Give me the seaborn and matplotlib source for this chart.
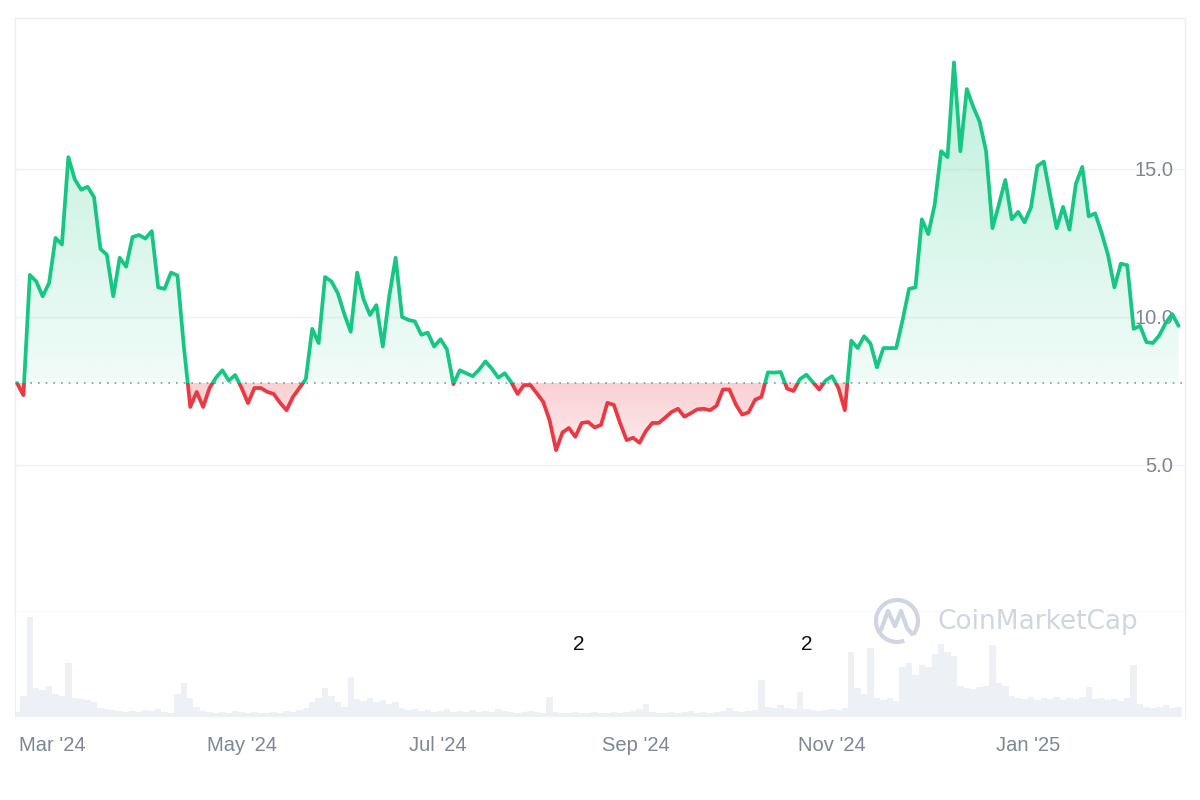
import numpy as np
import pandas as pd
import matplotlib
matplotlib.use("Agg")
import matplotlib.pyplot as plt
import matplotlib.dates as mdates
import matplotlib.colors as mcolors
import seaborn as sns
from matplotlib.path import Path
from matplotlib.patches import Rectangle, Arc
from matplotlib.transforms import ScaledTranslation, blended_transform_factory

# ---------------------------------------------------------------------------
# Data (one value every 2 days)
# ---------------------------------------------------------------------------
START = "2024-02-21"
PRICE = [
    7.77, 7.36, 11.42, 11.2, 10.7, 11.15, 12.67, 12.45, 15.4, 14.65,
    14.3, 14.4, 14.05, 12.3, 12.1, 10.7, 12.0, 11.7, 12.7, 12.77,
    12.65, 12.9, 11.0, 10.95, 11.5, 11.4, 9.0, 6.96, 7.47, 6.96,
    7.6, 7.95, 8.2, 7.85, 8.04, 7.6, 7.09, 7.6, 7.6, 7.47,
    7.4, 7.1, 6.85, 7.3, 7.6, 7.9, 9.6, 9.12, 11.35, 11.2,
    10.8, 10.1, 9.5, 11.5, 10.6, 10.07, 10.4, 9.0, 10.7, 12.0,
    10.0, 9.9, 9.85, 9.4, 9.47, 9.0, 9.25, 8.9, 7.73, 8.2,
    8.1, 8.0, 8.22, 8.5, 8.25, 7.95, 8.1, 7.8, 7.4, 7.7,
    7.7, 7.42, 7.13, 6.5, 5.5, 6.1, 6.25, 5.95, 6.42, 6.45,
    6.27, 6.35, 7.1, 7.03, 6.4, 5.84, 5.92, 5.75, 6.15, 6.42,
    6.42, 6.6, 6.79, 6.9, 6.63, 6.75, 6.88, 6.9, 6.85, 7.0,
    7.55, 7.55, 7.05, 6.7, 6.78, 7.2, 7.3, 8.13, 8.12, 8.14,
    7.58, 7.5, 7.9, 8.05, 7.8, 7.55, 7.85, 8.0, 7.6, 6.85,
    9.2, 8.95, 9.35, 9.1, 8.3, 8.95, 8.95, 8.95, 9.9, 10.95,
    11.0, 13.3, 12.8, 13.8, 15.6, 15.4, 18.6, 15.6, 17.7, 17.1,
    16.6, 15.6, 13.0, 13.8, 14.63, 13.3, 13.55, 13.2, 13.7, 15.1,
    15.25, 14.1, 13.0, 13.72, 12.95, 14.5, 15.07, 13.4, 13.5, 12.85,
    12.1, 11.0, 11.8, 11.75, 9.6, 9.7, 9.15, 9.12, 9.38, 9.8,
    10.1, 9.7,
]
VOLUME = [
    5, 20, 95, 28, 26, 30, 22, 20, 51, 18,
    17, 16, 14, 9, 8, 7, 6, 5, 6, 5,
    7, 6, 8, 5, 4, 22, 32, 18, 10, 6,
    5, 4, 5, 4, 6, 5, 4, 5, 4, 4,
    5, 4, 6, 5, 7, 9, 14, 18, 28, 20,
    14, 10, 38, 17, 15, 18, 14, 16, 12, 14,
    9, 7, 8, 6, 7, 5, 6, 8, 5, 6,
    5, 7, 5, 6, 5, 8, 6, 5, 4, 5,
    6, 5, 4, 19, 5, 4, 4, 5, 4, 4,
    5, 4, 4, 5, 4, 5, 6, 8, 12, 5,
    4, 4, 5, 4, 5, 6, 4, 5, 4, 5,
    6, 9, 6, 5, 6, 7, 35, 10, 9, 11,
    9, 8, 24, 8, 7, 6, 7, 8, 7, 9,
    62, 28, 22, 66, 18, 16, 18, 15, 48, 51,
    40, 50, 48, 60, 70, 62, 58, 30, 28, 27,
    29, 30, 69, 32, 30, 20, 18, 17, 19, 16,
    18, 17, 19, 16, 18, 17, 19, 29, 17, 18,
    16, 17, 15, 18, 50, 12, 10, 9, 10, 11,
    9, 10,
]
Y_TICKS = [5, 10, 15]
TICK_MONTHS = [1, 3, 5, 7, 9, 11]
EVENT_DATES = ["2024-08-14", "2024-10-24"]
EVENT_LABELS = ["2", "2"]

GREEN = "#16c784"
RED = "#ea3943"
GRAY = "#7f8694"
FRAME = "#eceef2"
VOL_COLOR = "#edf0f5"
MARK = "#cfd5e1"

sns.set_style("white")
plt.rcParams["font.family"] = ["Liberation Sans", "DejaVu Sans"]

dates = pd.date_range(START, periods=len(PRICE), freq="2D")
df = pd.DataFrame({"date": dates, "price": PRICE, "volume": VOLUME})
base = PRICE[0]
price = np.array(PRICE)
xnum = mdates.date2num(dates)

fig = plt.figure(figsize=(12, 8), dpi=100)
ax = fig.add_axes([0.0125, 0.235, 0.975, 0.7425])
axv = fig.add_axes([0.0125, 0.10375, 0.975, 0.13125], sharex=ax)


def gradient_fill(where, y0, y1, a0, a1, color):
    # fill between line and baseline with a vertical alpha gradient
    poly = ax.fill_between(xnum, price, base, where=where, interpolate=True,
                           color="none", lw=0)
    clip = Path.make_compound_path(*poly.get_paths())
    grad = np.zeros((256, 1, 4))
    grad[..., :3] = mcolors.to_rgb(color)
    grad[..., 3] = np.linspace(a0, a1, 256)[:, None]
    im = ax.imshow(grad, extent=[xnum[0], xnum[-1], y0, y1], origin="lower",
                   aspect="auto", zorder=1, interpolation="bilinear")
    im.set_clip_path(clip, transform=ax.transData)


gradient_fill(price >= base, base, price.max(), 0.06, 0.28, GREEN)
gradient_fill(price <= base, price.min(), base, 0.10, 0.24, RED)

ax.axhline(base, color="#8d939e", lw=1.2, linestyle=(0, (1, 3.6)), zorder=2)

# line: green above the baseline, red below
sns.lineplot(data=df, x="date", y="price", color=GREEN, lw=2.7, ax=ax,
             estimator=None, sort=False, zorder=3)
ax.lines[-1].set_clip_path(Rectangle((xnum[0] - 20, base), 500, 100,
                                     transform=ax.transData))
sns.lineplot(data=df, x="date", y="price", color=RED, lw=2.7, ax=ax,
             estimator=None, sort=False, zorder=3)
ax.lines[-1].set_clip_path(Rectangle((xnum[0] - 20, base - 100), 500, 100,
                                     transform=ax.transData))

ax.set_xlim(dates[0] - pd.Timedelta(hours=15), dates[0] + pd.Timedelta(days=364))
ax.set_ylim(0.034, 20.1)
ax.set_xlabel("")
ax.set_ylabel("")

# y axis labels sit inside the plot on the right
ax.set_yticks(Y_TICKS)
ax.yaxis.set_major_formatter(matplotlib.ticker.FormatStrFormatter("%.1f"))
ax.yaxis.tick_right()
ax.tick_params(axis="y", length=0, pad=-8.5, labelsize=14.5, labelcolor=GRAY)
plt.setp(ax.get_yticklabels(), ha="right")
ax.tick_params(axis="x", length=0, labelbottom=False)
ax.grid(axis="y", color="#f1f2f4", lw=1)
ax.grid(axis="x", visible=False)
for side in ["top", "left", "right", "bottom"]:
    ax.spines[side].set_color(FRAME)
    ax.spines[side].set_linewidth(1)

# ---------------------------------------------------------------------------
# Volume panel
# ---------------------------------------------------------------------------
axv.bar(df["date"], df["volume"], width=2.0, color=VOL_COLOR, lw=0)
axv.set_ylim(0, 100)
axv.set_yticks([])
axv.set_ylabel("")
axv.spines["top"].set_visible(False)
axv.spines["bottom"].set_visible(False)
for side in ["left", "right"]:
    axv.spines[side].set_color(FRAME)
axv.xaxis.set_major_locator(mdates.MonthLocator(bymonth=TICK_MONTHS))
axv.xaxis.set_major_formatter(mdates.DateFormatter("%b '%y"))
axv.tick_params(axis="x", length=0, pad=14, labelsize=14.5, labelcolor=GRAY)

first = axv.get_xticklabels()[0]
first.set_transform(first.get_transform() +
                    ScaledTranslation(0.06, 0, fig.dpi_scale_trans))

trans = blended_transform_factory(axv.transData, axv.transAxes)
for d, lab in zip(EVENT_DATES, EVENT_LABELS):
    axv.text(mdates.date2num(pd.Timestamp(d)), 0.695, lab, transform=trans,
             ha="center", va="center", fontsize=15, color="#111111")

# watermark
fig.text(0.781, 1 - 622 / 800, "CoinMarketCap", fontsize=19, color=MARK,
         family="DejaVu Sans", va="center", ha="left")
fig.add_artist(Arc((8.97, 1.79), 0.42, 0.42, theta1=-40, theta2=290,
                   transform=fig.dpi_scale_trans, color=MARK, lw=3))
fig.add_artist(matplotlib.lines.Line2D(
    [8.81, 8.88, 8.95, 9.01, 9.07, 9.12], [1.70, 1.89, 1.74, 1.89, 1.72, 1.66],
    transform=fig.dpi_scale_trans, color=MARK, lw=3, solid_joinstyle="round"))

fig.savefig("out.png", dpi=100, facecolor="white")
